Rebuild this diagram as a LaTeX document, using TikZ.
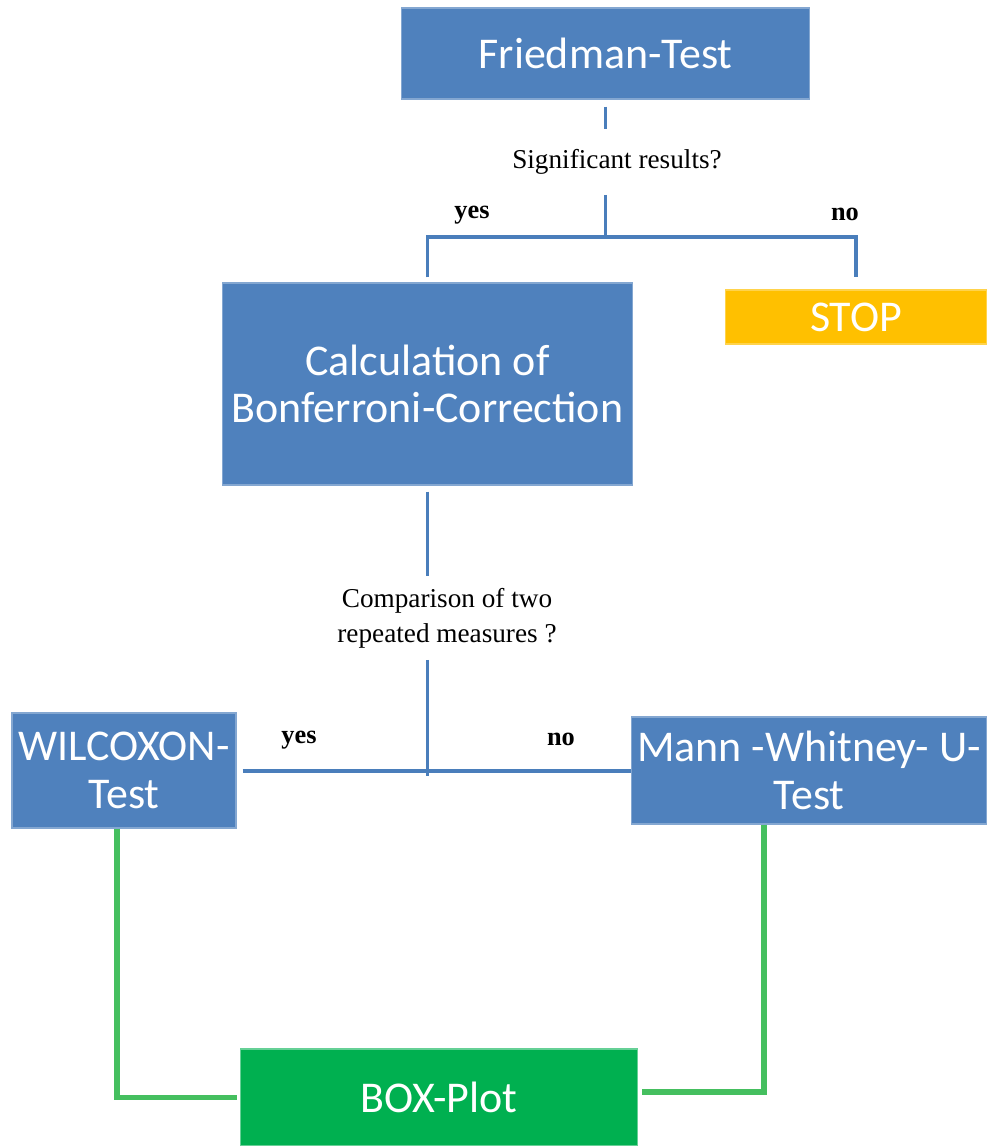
\documentclass[tikz,border=0pt]{standalone}
\usepackage{fontspec}
\setmainfont{Liberation Serif}
\newfontfamily\boxfont{Carlito}
\usepackage{xcolor}
\usepackage{tikz}
\definecolor{boxblue}{HTML}{4F81BD}
\definecolor{lineblue}{HTML}{4A7EBB}
\definecolor{stopgold}{HTML}{FFC000}
\definecolor{plotgreen}{HTML}{00B050}
\definecolor{linegreen}{HTML}{45BF5F}

\begin{document}
\begin{tikzpicture}[x=0.02cm,y=-0.02cm,
    stepbox/.style={rectangle,fill=boxblue,draw=boxblue!70!white,line width=0.6pt,text=white,
      inner sep=0pt,align=center,font=\boxfont\fontsize{25}{27}\selectfont},
    question/.style={inner sep=0pt,align=center,font=\fontsize{15.5}{20}\selectfont},
    answer/.style={inner sep=0pt,font=\bfseries\fontsize{15}{18}\selectfont},
    blueline/.style={draw=lineblue,line width=2.2pt},
    greenline/.style={draw=linegreen,line width=3pt}]
  \useasboundingbox (0,0) rectangle (987,1146);

  % boxes
  \node[stepbox,minimum width=8.18cm,minimum height=1.82cm] (friedman) at (605.5,53.5) {Friedman-Test};
  \node[stepbox,minimum width=8.2cm,minimum height=4.04cm] (calc) at (427.5,384) {Calculation of\\Bonferroni-Correction};
  \node[stepbox,fill=stopgold,draw=stopgold!70!white,minimum width=5.24cm,minimum height=1.08cm] (stop) at (856,317) {STOP};
  \node[stepbox,minimum width=4.48cm,minimum height=2.3cm] (wilcoxon) at (124,770.5) {WILCOXON-\\Test};
  \node[stepbox,minimum width=7.12cm,minimum height=2.14cm] (mann) at (809,770.5) {Mann -Whitney- U-\\Test};
  \node[stepbox,fill=plotgreen,draw=plotgreen!60!white,minimum width=7.96cm,minimum height=1.94cm] (boxplot) at (439,1097.5) {BOX-Plot};

  % questions and answers
  \node[question,minimum height=1.3cm] (sig) at (617,162) {Significant results?};
  \node[question,minimum height=1.66cm] (cmp) at (447,618) {Comparison of two\\repeated measures ?};
  \node[answer] (yes1) at (472,215) {yes};
  \node[answer] (no1) at (845,214) {no};
  \node[answer] (yes2) at (299,740) {yes};
  \node[answer] (no2) at (561,739) {no};

  \coordinate (j1) at (605.5,237);
  \coordinate (j2) at (427.5,771);

  % connectors
  \draw[blueline,shorten <=0.14cm] (friedman.south) -- (friedman.south |- sig.north);
  \draw[blueline] (friedman.south |- sig.south) -- (j1);
  \draw[blueline,shorten <=0.1cm,shorten >=0.24cm] (calc.north) -- (calc.north |- j1) -- (stop.north |- j1) -- (stop.north);
  \draw[blueline,shorten <=0.12cm] (calc.south) -- (calc.south |- cmp.north);
  \draw[blueline] (calc.south |- cmp.south) -- ([yshift=-0.1cm]j2);
  \draw[blueline,shorten <=0.12cm] (wilcoxon.east |- j2) -- (mann.west |- j2);
  \draw[greenline] ([xshift=-0.14cm]wilcoxon.south) |- ([xshift=-0.06cm]boxplot.west);
  \draw[greenline] ([xshift=-0.9cm]mann.south) |- ([xshift=0.08cm,yshift=0.11cm]boxplot.east);
\end{tikzpicture}
\end{document}
